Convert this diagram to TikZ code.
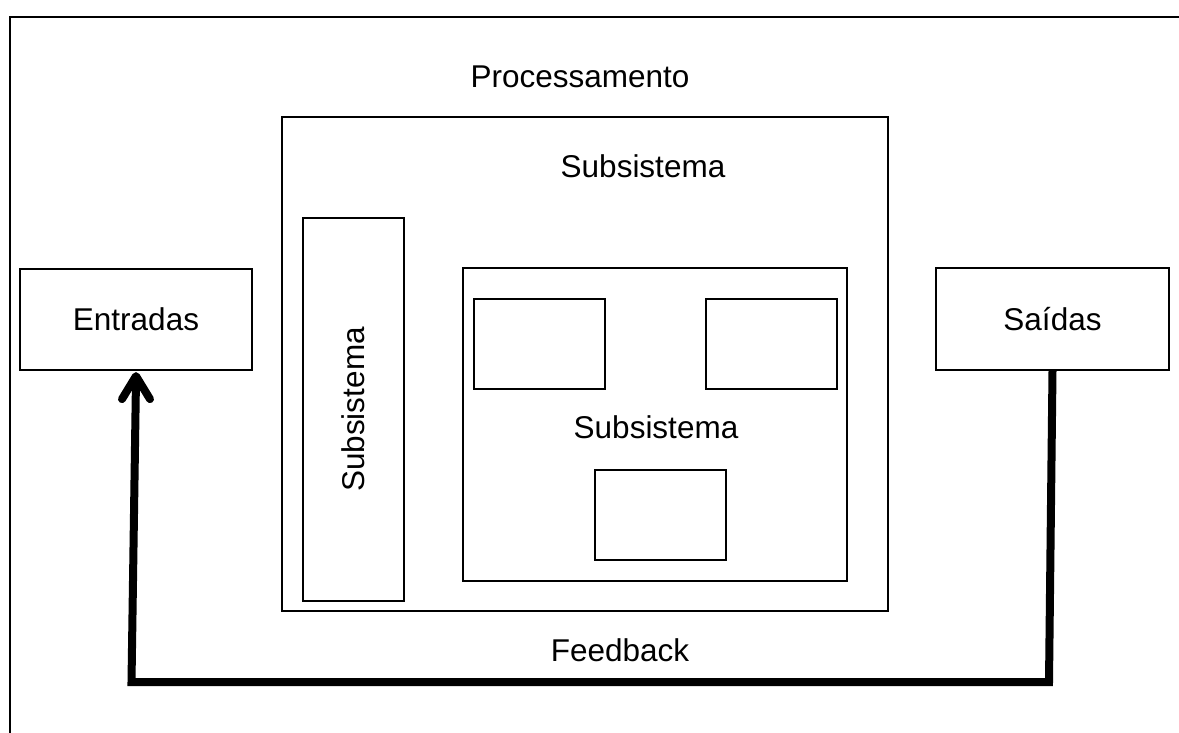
\documentclass[tikz,border=0pt]{standalone}
\usepackage{fontspec}
\setmainfont{Liberation Sans}
\begin{document}
\begin{tikzpicture}[x=1pt,y=-1pt,
  box/.style={draw=black, line width=2.2pt, fill=white},
  lbl/.style={font=\fontsize{31.5}{36}\selectfont, inner sep=0pt},
  fb/.style={line width=8pt, line join=miter},
  barb/.style={line width=8pt, line cap=round, line join=round}]
\useasboundingbox (0,0) rectangle (1179,733);
\fill[white] (0,0) rectangle (1179,733);

% frame, running off the right and bottom edges
\draw[line width=2pt] (10.3,733) -- (10.3,16.8) -- (1179,16.8);

% inputs and outputs
\node[box, minimum width=232pt, minimum height=101pt] (entradas) at (136,319.5) {};
\node[lbl] at (entradas.center) {Entradas};
\node[box, minimum width=233pt, minimum height=102pt] (saidas) at (1052.5,319) {};
\node[lbl] at (saidas.center) {Saídas};

% processing block
\node[lbl] (proc) at (580,77) {Processamento};
\node[box, minimum width=606pt, minimum height=494pt] (sub) at (585,364) {};
\node[lbl] (subt) at (643,166) {Subsistema};
\node[box, minimum width=101pt, minimum height=383pt] (subv) at (353.5,409.5) {};
\node[lbl, rotate=90] at (subv.center) {Subsistema};
\node[box, minimum width=384pt, minimum height=313pt] (subi) at (655,424.5) {};
\node[lbl] (subit) at (656,427) {Subsistema};
\node[box, minimum width=131pt, minimum height=90pt] (s1) at (539.5,344) {};
\node[box, minimum width=131pt, minimum height=90pt] (s2) at (771.5,344) {};
\node[box, minimum width=131pt, minimum height=90pt] (s3) at (660.5,515) {};

% feedback loop with an open arrowhead at the inputs
\node[lbl] (fbt) at (620,650) {Feedback};
\coordinate (fbR) at (1049,682);
\coordinate (fbL) at (131.5,682);
\draw[fb] (saidas.south) -- (fbR) -- (fbL) -- ([yshift=-8pt]entradas.south);
\draw[barb]
  ([xshift=-14pt,yshift=-28pt]entradas.south) -- ([yshift=-5pt]entradas.south) -- ([xshift=14pt,yshift=-28pt]entradas.south);
\end{tikzpicture}
\end{document}
